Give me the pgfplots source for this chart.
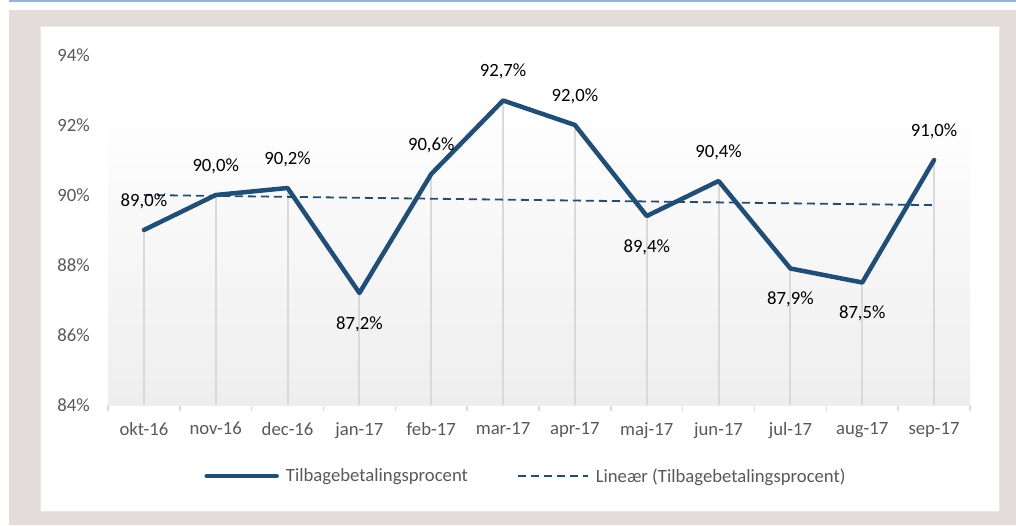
\documentclass[border=0pt]{standalone}
\usepackage{pgfplots}
\pgfplotsset{compat=1.18}
\usepackage{pgfplotstable}
\usepackage{fontspec}
\setmainfont{Carlito}

\definecolor{lineBlue}{HTML}{1F4E79}
\definecolor{topBlue}{HTML}{95B3D7}
\definecolor{bgPink}{HTML}{E4DCDA}
\definecolor{axisGray}{HTML}{D9D9D9}
\definecolor{labelGray}{HTML}{595959}
\definecolor{plotBottom}{HTML}{EEEEEE}

\newcommand{\chartfont}{\fontsize{18.7pt}{22pt}\selectfont}

% month, rate, label offset (above / below the point)
\pgfplotstableread{
x y off
0 89.0 29
1 90.0 29
2 90.2 29
3 87.2 -31
4 90.6 29
5 92.7 29
6 92.0 29
7 89.4 -31
8 90.4 29
9 87.9 -31
10 87.5 -31
11 91.0 29
}\ratedata

\begin{document}
\begin{tikzpicture}
\useasboundingbox (0pt,0pt) rectangle (1016pt,-525pt);
\fill[white] (0pt,0pt) rectangle (1016pt,-525pt);
\fill[bgPink] (9pt,-10pt) rectangle (1016pt,-525pt);
\fill[topBlue] (9pt,0pt) rectangle (1016pt,-2pt);
\filldraw[fill=white,draw=axisGray!60,line width=0.8pt] (40pt,-26pt) rectangle (999pt,-511pt);
\begin{axis}[
  at={(108pt,-405pt)}, anchor=south west,
  scale only axis, width=862pt, height=350pt,
  xmin=-0.5, xmax=11.5, ymin=84, ymax=94,
  axis x line*=bottom, axis y line*=left,
  x axis line style={axisGray,line width=1.5pt,-},
  y axis line style={draw=none},
  xtick={0,...,11},
  xticklabels={okt-16,nov-16,dec-16,jan-17,feb-17,mar-17,apr-17,maj-17,jun-17,jul-17,aug-17,sep-17},
  minor xtick={-0.5,0.5,...,11.5},
  major tick length=0pt, minor tick length=6pt, tick align=outside,
  minor x tick style={axisGray,line width=1.5pt},
  ytick={84,86,...,94}, ytick style={draw=none},
  yticklabel={\pgfmathprintnumber{\tick}\%},
  /pgf/number format/assume math mode=true,
  xticklabel style={font=\chartfont,text=labelGray,inner sep=0pt,yshift=-17pt},
  yticklabel style={font=\chartfont,text=labelGray,inner sep=0pt,anchor=east,xshift=-18pt},
  legend columns=2,
  legend style={at={(0.4838,-0.203)},anchor=center,draw=none,fill=none,
    font=\chartfont,text=labelGray,nodes={inner sep=0pt},
    /tikz/every odd column/.append style={column sep=7pt},
    /tikz/every even column/.append style={column sep=49pt}},
  legend image code/.code={\draw[#1] (0pt,0pt) -- (70pt,0pt);},
]
\shade[top color=white,bottom color=plotBottom] (axis cs:-0.5,84) rectangle (axis cs:11.5,92.7);
\addplot[ycomb,axisGray,line width=2pt,forget plot] table[x=x,y=y] {\ratedata};
\addplot[lineBlue,line width=4.5pt,line join=round,line cap=round] table[x=x,y=y] {\ratedata};
\addlegendentry{Tilbagebetalingsprocent}
\addplot[lineBlue,line width=1.8pt,dash pattern=on 8pt off 5pt] coordinates {(0,90.0) (11,89.71)};
\addlegendentry{Lineær (Tilbagebetalingsprocent)}
\addplot[draw=none,forget plot,point meta=y,
  visualization depends on={\thisrow{off} \as \laboff},
  nodes near coords={\pgfmathprintnumber[fixed,fixed zerofill,precision=1,use comma]{\pgfplotspointmeta}\%},
  nodes near coords style={font=\chartfont,text=black,anchor=center,inner sep=0pt,yshift=\laboff*1pt}]
  table[x=x,y=y] {\ratedata};
\end{axis}
\end{tikzpicture}
\end{document}
